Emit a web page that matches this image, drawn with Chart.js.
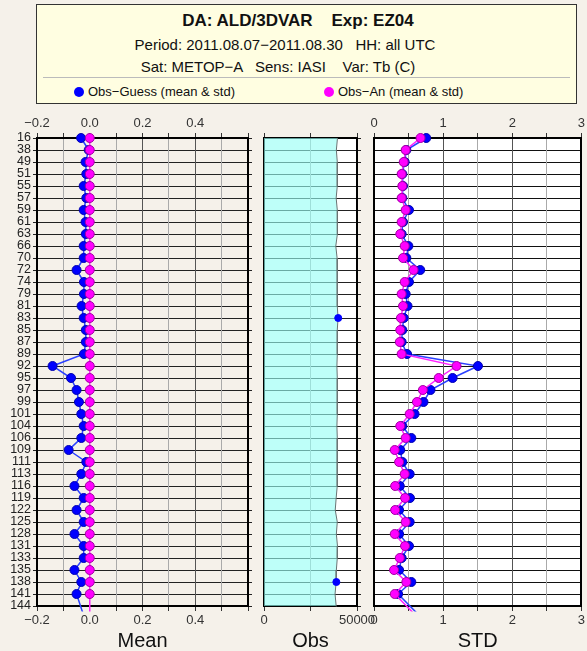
<!DOCTYPE html>
<html>
<head>
<meta charset="utf-8">
<script src="https://cdn.jsdelivr.net/npm/chart.js@4"></script>
<style>
  html, body { margin: 0; padding: 0; background: #f5f1ea; }
  body { width: 587px; height: 651px; position: relative; overflow: hidden;
         font-family: "Liberation Sans", Arial, sans-serif; color: #111; }
  #head { position: absolute; left: 36px; top: 4px; width: 541px; height: 100px;
          box-sizing: border-box; background: #fffee1; border: 1px solid #333; }
  #head .line { position: absolute; left: 0; width: 496px; text-align: center; white-space: pre; }
  #head .l1 { top: 6px; font-size: 17px; font-weight: bold; line-height: 20px; width: 522px; }
  #head .l2 { top: 31px; font-size: 15px; line-height: 18px; }
  #head .l3 { top: 53px; font-size: 15px; line-height: 18px; width: 482px; }
  #head .sep { position: absolute; left: 6px; right: 6px; top: 72px; border-top: 1px solid #bbb; }
  #head .key { position: absolute; top: 79px; font-size: 13px; line-height: 16px; white-space: pre; }
  #head .dot { display: inline-block; width: 10px; height: 10px; border-radius: 50%;
               margin-right: 4px; vertical-align: -1px; }
  canvas { position: absolute; top: 110px; }
</style>
</head>
<body>
<div id="head">
  <div class="line l1">DA: ALD/3DVAR    Exp: EZ04</div>
  <div class="line l2">Period: 2011.08.07−2011.08.30   HH: all UTC</div>
  <div class="line l3">Sat: METOP−A   Sens: IASI    Var: Tb (C)</div>
  <div class="sep"></div>
  <div class="key" style="left:37px"><span class="dot" style="background:#0000ff"></span>Obs−Guess (mean &amp; std)</div>
  <div class="key" style="left:287px"><span class="dot" style="background:#ff00ff"></span>Obs−An (mean &amp; std)</div>
</div>
<canvas id="std" width="227" height="541" style="left:360px"></canvas>
<canvas id="mean" width="262" height="541" style="left:0px"></canvas>
<canvas id="obs" width="135" height="541" style="left:250px"></canvas>
<script>
// IASI channels, top to bottom; the last one sits just below the frame
const channels = ['16', '38', '49', '51', '55', '57', '59', '61', '63', '66', '70', '72', '74', '79',
  '81', '83', '85', '87', '89', '92', '95', '97', '99', '101', '104', '106', '109', '111', '113',
  '116', '119', '122', '125', '128', '131', '133', '135', '138', '141', '144', '146'];

const guessMean = [-0.033, -0.004, -0.016, -0.013, -0.023, -0.013, -0.023, -0.016, -0.015, -0.023,
  -0.023, -0.05, -0.022, -0.022, -0.031, -0.023, -0.015, -0.015, -0.022, -0.141, -0.071, -0.05,
  -0.041, -0.032, -0.023, -0.032, -0.08, -0.013, -0.032, -0.058, -0.023, -0.05, -0.023, -0.058,
  -0.023, -0.023, -0.058, -0.032, -0.05, null, -0.02];

const anMean = [0, 0, 0, 0, 0, 0, 0, 0, 0, 0, 0, 0, 0, 0, 0, 0, 0, 0, 0, 0, 0, 0, 0, 0, 0, 0, 0,
  0, 0, 0, 0, 0, 0, 0, 0, 0, 0, 0, 0, null, 0];

const guessStd = [0.755, 0.468, 0.444, 0.41, 0.42, 0.41, 0.506, 0.42, 0.40, 0.497, 0.468, 0.669,
  0.506, 0.458, 0.485, 0.43, 0.41, 0.40, 0.478, 1.504, 1.137, 0.817, 0.716, 0.587, 0.41, 0.54,
  0.38, 0.41, 0.516, 0.373, 0.52, 0.363, 0.516, 0.363, 0.506, 0.40, 0.363, 0.54, 0.349, null, 0.69];

const anStd = [0.673, 0.458, 0.43, 0.40, 0.41, 0.40, 0.458, 0.40, 0.38, 0.444, 0.42, 0.573, 0.444,
  0.40, 0.42, 0.39, 0.38, 0.373, 0.40, 1.194, 0.936, 0.707, 0.621, 0.516, 0.38, 0.458, 0.30, 0.363,
  0.444, 0.306, 0.45, 0.306, 0.458, 0.30, 0.449, 0.373, 0.29, 0.468, 0.30, null, 0.64];

const obsCount = [39500, 38900, 39400, 39500, 39300, 38800, 39400, 39500, 39400, 38600, 39300,
  39400, 39500, 39400, 39300, 39800, 39400, 39300, 39500, 39200, 39400, 39300, 39500, 39400,
  39200, 39400, 39300, 39500, 39300, 39400, 38800, 38300, 39400, 38900, 39500, 39400, 38900,
  38800, 38200, null, 39400];

const obsMarks = [null, null, null, null, null, null, null, null, null, null, null, null, null,
  null, null, 39900, null, null, null, null, null, null, null, null, null, null, null, null, null,
  null, null, null, null, null, null, null, null, 38900, null, null, null];

const lastRow = channels.indexOf('144');

const plotBackground = {
  id: 'plotBackground',
  beforeDraw(chart, args, opts) {
    if (!opts.color) return;
    const {ctx, chartArea: a} = chart;
    ctx.save();
    ctx.fillStyle = opts.color;
    ctx.fillRect(a.left, a.top, a.width, a.height);
    ctx.restore();
  }
};

function rowAxis(position, width, opts) {
  return {
    type: 'category',
    position: position,
    labels: channels,
    offset: false,
    afterDataLimits: s => { s.max = lastRow; },
    afterFit: s => { s.width = width; },
    border: { display: true, color: '#000', width: 2 },
    grid: {
      offset: false,
      color: opts.gridColor || '#222',
      drawOnChartArea: position === 'left',
      drawTicks: !!opts.ticks,
      tickLength: 4
    },
    ticks: {
      display: !!opts.labels,
      autoSkip: false,
      padding: 2,
      color: '#222',
      font: { family: '"Liberation Sans Narrow", "Liberation Sans", sans-serif', size: 12.5 }
    }
  };
}

function valueAxis(position, min, max, step, isMajor, label, height, title) {
  const axis = {
    type: 'linear',
    position: position,
    min: min,
    max: max,
    afterFit: s => { s.height = height; },
    border: { display: true, color: '#000', width: 2 },
    grid: {
      drawOnChartArea: position === 'bottom',
      color: c => isMajor(c.tick.value) ? '#555' : '#aaa',
      tickColor: '#333',
      tickLength: 5
    },
    ticks: {
      stepSize: step,
      autoSkip: false,
      maxRotation: 0,
      padding: 2,
      color: '#333',
      font: { family: '"Liberation Sans", sans-serif', size: 13 },
      callback: label
    }
  };
  if (title) {
    axis.title = {
      display: true,
      text: title,
      color: '#111',
      padding: 0,
      font: { family: '"Liberation Sans", sans-serif', size: 20, lineHeight: 1 }
    };
  }
  return axis;
}

function fmt(v) {
  const s = Math.abs(v).toFixed(1);
  return v < -1e-9 ? '−' + s : s;
}

const blue = {
  borderColor: '#2a40ff',
  backgroundColor: '#0000ff',
  pointBackgroundColor: '#0000ff',
  pointBorderColor: '#0000b0',
  borderWidth: 1.5,
  pointRadius: 4.5,
  pointBorderWidth: 1,
  spanGaps: true
};
const magenta = {
  borderColor: '#ff22ff',
  backgroundColor: '#ff00ff',
  pointBackgroundColor: '#ff00ff',
  pointBorderColor: '#a000a0',
  borderWidth: 1.5,
  pointRadius: 4.5,
  pointBorderWidth: 1,
  spanGaps: true
};

const common = {
  responsive: false,
  animation: false,
  indexAxis: 'y',
  events: []
};

// Mean panel
const meanMajor = v => Math.round(v * 10) % 2 === 0;
const meanLabel = v => (meanMajor(v) && v < 0.55) ? fmt(v) : '';
new Chart(document.getElementById('mean').getContext('2d'), {
  type: 'line',
  data: {
    datasets: [
      Object.assign({ label: 'Obs−An', data: anMean }, magenta),
      Object.assign({ label: 'Obs−Guess', data: guessMean }, blue)
    ]
  },
  options: Object.assign({}, common, {
    plugins: { legend: { display: false }, tooltip: { enabled: false } },
    scales: {
      y: rowAxis('left', 37, { labels: true, ticks: true }),
      yRight: rowAxis('right', 14, { ticks: true }),
      x: valueAxis('bottom', -0.2, 0.6, 0.1, meanMajor, meanLabel, 45, 'Mean'),
      xTop: valueAxis('top', -0.2, 0.6, 0.1, meanMajor, meanLabel, 28)
    }
  })
});

// Obs panel
const obsMajor = v => v % 50000 === 0;
const obsLabel = v => (v === 0 || v === 50000) ? String(v) : '';
new Chart(document.getElementById('obs').getContext('2d'), {
  type: 'line',
  data: {
    datasets: [
      {
        label: 'Obs (guess)',
        data: obsMarks,
        showLine: false,
        pointRadius: 3.5,
        pointBackgroundColor: '#0000ff',
        pointBorderColor: '#0000ff'
      },
      {
        label: 'Obs',
        data: obsCount,
        borderColor: '#6a7474',
        borderWidth: 1,
        backgroundColor: 'rgba(150, 255, 246, 0.62)',
        fill: 'origin',
        pointRadius: 0,
        spanGaps: true
      }
    ]
  },
  options: Object.assign({}, common, {
    plugins: {
      legend: { display: false },
      tooltip: { enabled: false },
      plotBackground: { color: '#ffffff' }
    },
    scales: {
      y: rowAxis('left', 14, {}),
      yRight: rowAxis('right', 28, { ticks: true }),
      x: valueAxis('bottom', 0, 50000, 25000, obsMajor, obsLabel, 45, 'Obs'),
      xTop: valueAxis('top', 0, 50000, 25000, obsMajor, () => '', 28)
    }
  }),
  plugins: [plotBackground]
});

// STD panel
const stdMajor = v => Math.round(v * 2) % 2 === 0;
const stdLabel = v => stdMajor(v) ? String(Math.round(v)) : '';
new Chart(document.getElementById('std').getContext('2d'), {
  type: 'line',
  data: {
    datasets: [
      Object.assign({ label: 'Obs−An', data: anStd }, magenta),
      Object.assign({ label: 'Obs−Guess', data: guessStd }, blue)
    ]
  },
  options: Object.assign({}, common, {
    plugins: {
      legend: { display: false },
      tooltip: { enabled: false },
      plotBackground: { color: '#ffffff' }
    },
    scales: {
      y: rowAxis('left', 14, { gridColor: '#111' }),
      yRight: rowAxis('right', 4, {}),
      x: valueAxis('bottom', 0, 3, 0.5, stdMajor, stdLabel, 45, 'STD'),
      xTop: valueAxis('top', 0, 3, 0.5, stdMajor, stdLabel, 28)
    }
  }),
  plugins: [plotBackground]
});
</script>
</body>
</html>
